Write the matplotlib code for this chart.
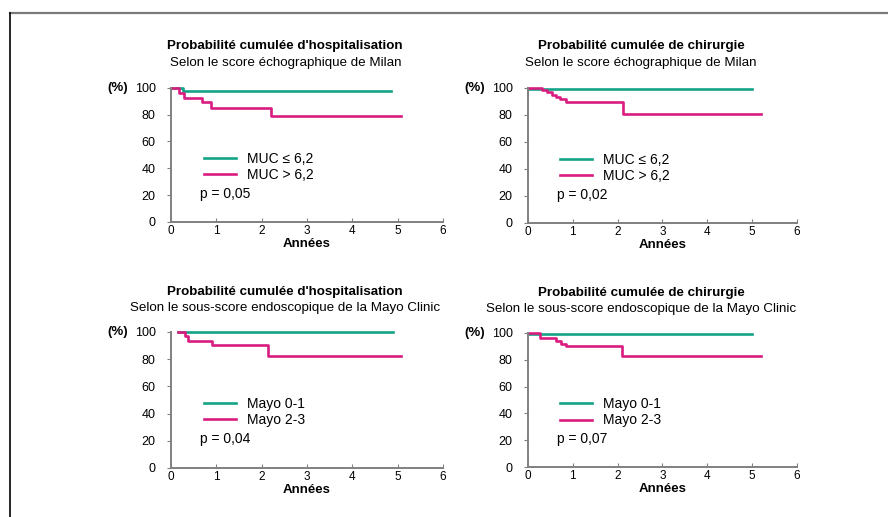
import matplotlib
matplotlib.use("Agg")
import matplotlib.pyplot as plt
from matplotlib.lines import Line2D

plt.rcParams['font.family'] = ['Liberation Sans', 'DejaVu Sans']

GREEN = '#14a386'
PINK = '#d91c80'

titles = ["Probabilité cumulée d'hospitalisation", "Probabilité cumulée de chirurgie",
          "Probabilité cumulée d'hospitalisation", "Probabilité cumulée de chirurgie"]
subtitles = ["Selon le score échographique de Milan", "Selon le score échographique de Milan",
             "Selon le sous-score endoscopique de la Mayo Clinic",
             "Selon le sous-score endoscopique de la Mayo Clinic"]
labels_milan = ["MUC ≤ 6,2", "MUC > 6,2"]
labels_mayo = ["Mayo 0-1", "Mayo 2-3"]
p_values = ["p = 0,05", "p = 0,02", "p = 0,04", "p = 0,07"]

# Kaplan-Meier curves (years, %)
tl_green_x = [0, 0.27, 4.85]
tl_green_y = [100, 97.5, 97.5]
tl_pink_x = [0, 0.18, 0.28, 0.68, 0.88, 2.2, 5.07]
tl_pink_y = [100, 96, 92, 89, 85, 79, 79]

tr_green_x = [0, 5.0]
tr_green_y = [99.5, 99.5]
tr_pink_x = [0, 0.31, 0.42, 0.54, 0.62, 0.72, 0.84, 2.12, 5.2]
tr_pink_y = [100, 98.5, 97, 95, 93.5, 92, 89.5, 81, 81]

bl_green_x = [0.15, 4.9]
bl_green_y = [100, 100]
bl_pink_x = [0.15, 0.3, 0.38, 0.9, 2.15, 5.07]
bl_pink_y = [100, 97, 93, 90.5, 82.5, 82.5]

br_green_x = [0, 5.0]
br_green_y = [99.5, 99.5]
br_pink_x = [0, 0.26, 0.63, 0.74, 0.84, 2.1, 5.2]
br_pink_y = [100, 96, 94, 92, 90.5, 83, 83]

panels = [
    ([0.1926, 0.5706, 0.3063, 0.2598], tl_green_x, tl_green_y, tl_pink_x, tl_pink_y, labels_milan, 30),
    ([0.5946, 0.5687, 0.3029, 0.2611], tr_green_x, tr_green_y, tr_pink_x, tr_pink_y, labels_milan, 30),
    ([0.1926, 0.0948, 0.3063, 0.2631], bl_green_x, bl_green_y, bl_pink_x, bl_pink_y, labels_mayo, 29),
    ([0.5946, 0.0967, 0.3029, 0.2592], br_green_x, br_green_y, br_pink_x, br_pink_y, labels_mayo, 29),
]

fig = plt.figure(figsize=(8.88, 5.17), dpi=100)

for i, (pos, gx, gy, px, py, labs, toff) in enumerate(panels):
    ax = fig.add_axes(pos)
    ax.step(gx, gy, where='post', color=GREEN, lw=1.9, label=labs[0], clip_on=False)
    ax.step(px, py, where='post', color=PINK, lw=1.9, label=labs[1], clip_on=False)
    ax.set_xlim(0, 6)
    ax.set_ylim(0, 100)
    ax.set_xticks(range(0, 7))
    ax.set_yticks(range(0, 101, 20))
    for s in ['top', 'right']:
        ax.spines[s].set_visible(False)
    for s in ['left', 'bottom']:
        ax.spines[s].set_color('#808080')
        ax.spines[s].set_linewidth(1.4)
    ax.tick_params(axis='x', direction='in', length=3, color='#808080', labelsize=8.5, pad=2)
    ax.tick_params(axis='y', direction='out', length=3, color='#808080', labelsize=9, pad=8)
    ax.set_xlabel('Années', fontsize=9.5, fontweight='bold', labelpad=1)
    ax.annotate('(%)', xy=(0, 100), xytext=(-31, 0), textcoords='offset points',
                ha='right', va='center', fontsize=9.5, fontweight='bold')
    ax.annotate(titles[i], xy=(0.42, 1), xycoords='axes fraction', xytext=(0, toff),
                textcoords='offset points', ha='center', va='center', fontsize=9.6, fontweight='bold')
    ax.annotate(subtitles[i], xy=(0.42, 1), xycoords='axes fraction', xytext=(0, toff - 12),
                textcoords='offset points', ha='center', va='center', fontsize=9.6)
    ax.legend(loc='upper left', bbox_to_anchor=(0.12, 0.52), frameon=False, fontsize=10,
              handlelength=2.3, handletextpad=0.8, labelspacing=0.15, borderpad=0, borderaxespad=0)
    ax.text(0.64, 21, p_values[i], ha='left', va='center', fontsize=10)

# outer frame
fig.add_artist(Line2D([0.0113, 1.0], [0.974, 0.974], transform=fig.transFigure, color='#7a7a7a', lw=1.6))
fig.add_artist(Line2D([0.0113, 0.0113], [0.0, 0.974], transform=fig.transFigure, color='black', lw=1.2))

fig.savefig('out.png', dpi=100)
